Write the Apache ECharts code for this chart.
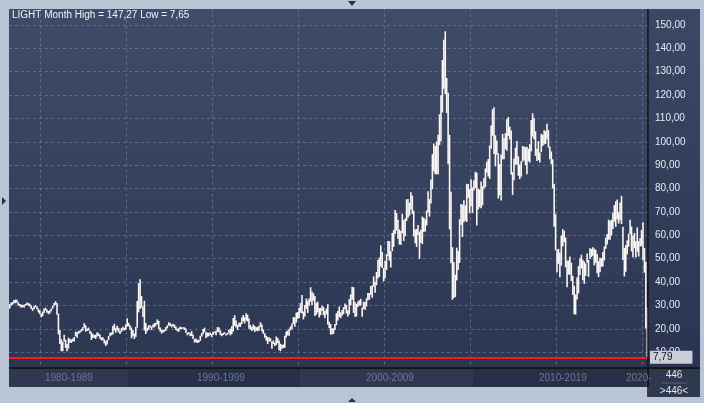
<!DOCTYPE html>
<html><head><meta charset="utf-8">
<script src="https://cdn.jsdelivr.net/npm/echarts@6/dist/echarts.min.js"></script>
<style>html,body{margin:0;padding:0;background:#b9c4d4}#c{width:704px;height:403px}</style>
</head><body><div id="c"></div>
<script>
const title = "LIGHT Month High = 147,27 Low = 7,65";
const startYear = 1983, startMonth = 3, barCount = 446;
const decadeLabels = ["1980-1989","1990-1999","2000-2009","2010-2019","2020-"];
const lastLevel = 7.79;
const highs = [
30.5,31.2,31.5,32.3,32.5,32.4,31.3,30.6,30.4,30.2,
30.3,30.6,31.2,31.0,30.7,30.0,28.9,29.6,30.2,29.6,28.6,27.9,
26.5,27.4,28.7,29.0,28.2,27.6,27.9,28.7,29.8,31.0,31.8,31.0,
26.5,19.5,15.6,14.5,17.4,15.3,13.5,16.2,15.7,15.4,15.8,16.5,
18.8,18.5,19.0,19.3,19.9,20.7,22.4,21.5,20.1,20.5,19.3,18.6,
17.8,17.3,17.5,18.5,18.1,17.5,16.3,16.4,15.5,14.8,15.2,16.9,
18.3,18.4,21.2,22.1,20.4,21.3,20.4,19.1,20.3,20.9,20.4,21.9,
24.5,22.5,21.5,20.5,19.5,18.0,20.8,31.9,39.5,41.2,34.0,29.5,
32.0,22.5,20.5,21.5,21.5,21.0,21.8,22.4,22.6,24.0,23.4,20.5,
19.5,19.7,19.6,20.8,21.5,22.8,22.5,21.7,22.1,21.8,21.0,20.0,
20.4,20.9,20.6,20.6,20.6,20.1,18.3,18.6,18.2,19.0,17.5,15.6,
15.8,15.3,15.2,17.0,18.2,19.9,20.5,18.6,18.4,18.3,18.4,17.8,
18.7,18.8,19.1,20.7,20.6,19.3,18.0,18.3,18.5,17.9,18.3,19.6,
20.0,21.1,24.6,25.8,23.5,21.6,22.6,22.6,24.8,25.9,24.9,26.6,
26.0,24.5,21.6,20.8,21.9,21.2,20.6,20.8,21.3,22.8,21.8,19.7,
18.1,17.0,16.5,16.4,15.9,14.6,15.0,14.0,16.7,16.1,15.0,13.6,
13.2,13.3,17.0,18.8,19.2,20.0,21.0,22.3,25.0,24.8,26.9,27.2,
29.0,31.0,34.4,27.4,30.2,33.0,32.0,33.0,37.8,35.9,35.2,34.0,
31.1,31.6,28.9,28.9,29.9,29.3,27.6,28.6,30.5,23.0,22.0,20.2,
20.2,22.0,26.6,27.6,29.5,27.0,28.0,29.2,30.8,30.2,27.9,32.7,
34.7,38.0,37.8,31.5,30.6,31.7,32.2,32.8,29.1,31.6,31.5,33.0,
35.3,35.3,38.3,38.5,42.4,40.1,44.3,49.4,50.5,55.7,52.8,46.0,
49.0,51.9,57.6,57.5,53.2,61.0,62.3,70.8,69.6,66.6,62.5,61.8,
69.2,66.5,67.2,75.4,75.5,73.9,78.4,77.0,70.5,62.5,62.7,64.4,
61.5,62.4,68.0,67.5,66.8,70.6,78.8,75.5,83.9,94.7,99.3,98.2,
100.1,103.0,111.8,119.9,135.0,143.7,147.3,127.3,121.0,103.0,78.6,54.9,
48.6,43.1,54.7,53.3,66.9,73.4,73.1,75.0,72.8,82.0,82.0,79.8,
84.0,80.5,83.5,87.2,86.8,79.8,79.6,83.0,81.0,84.5,88.6,91.5,
92.6,98.5,107.0,113.9,114.8,102.8,100.6,95.1,90.5,94.6,103.4,101.6,
103.7,109.8,110.6,106.5,104.8,87.0,92.9,97.5,100.4,93.8,90.3,91.7,
98.2,98.0,97.7,97.9,97.0,99.0,109.3,112.2,110.2,104.5,97.0,100.3,
95.4,103.4,103.0,104.9,104.5,107.7,105.0,98.0,95.9,92.5,82.0,69.0,
53.9,54.2,52.5,59.9,62.6,61.9,59.0,49.2,49.2,50.9,48.3,42.6,
38.4,34.7,41.9,46.8,50.2,51.7,49.5,48.8,48.0,52.2,49.5,54.5,
54.2,54.9,54.3,53.8,52.0,48.9,50.4,50.2,52.9,55.2,59.0,60.5,
66.7,66.2,66.6,69.6,72.9,74.5,75.3,70.0,74.0,76.9,63.7,54.6,
55.8,57.8,60.7,66.6,63.8,59.9,61.0,57.5,63.4,57.5,58.8,62.3,
65.6,54.5,48.7,29.1];
const lows = [
28.6,29.8,30.3,30.8,31.0,31.1,30.0,29.6,29.0,29.3,
29.0,29.8,30.2,30.0,29.5,28.5,27.6,28.4,29.2,28.3,27.0,26.2,
24.9,25.4,26.7,27.8,26.8,26.2,26.5,27.5,28.6,29.6,30.2,26.0,
17.6,13.5,10.4,10.4,14.5,11.8,10.4,11.5,14.0,13.9,14.6,14.6,
16.8,16.2,17.8,18.3,18.8,19.3,20.5,18.8,19.0,19.3,17.9,15.2,
16.0,16.1,15.6,16.6,16.9,15.7,15.1,15.0,13.7,12.6,13.3,15.1,
16.8,17.2,17.5,19.3,18.3,19.3,18.5,17.8,18.7,19.4,19.3,19.5,
21.0,21.0,19.5,15.9,16.8,15.6,16.5,20.5,27.0,28.5,29.0,25.0,
19.3,17.8,18.9,19.6,20.5,19.4,20.5,20.6,21.3,22.0,19.8,18.8,
17.9,18.4,18.7,19.2,20.2,21.3,21.2,20.6,21.1,20.3,19.5,18.9,
18.7,19.7,19.8,20.0,19.5,18.2,17.2,17.8,16.8,16.9,15.6,14.1,
14.2,13.9,14.1,14.8,16.7,17.6,18.6,16.1,16.6,16.8,17.3,16.4,
17.3,18.1,17.2,18.6,18.5,17.3,16.8,17.3,17.8,17.1,17.5,18.0,
17.2,17.7,18.8,21.2,20.5,19.5,20.9,20.8,22.0,23.2,22.3,23.5,
23.1,20.0,19.6,19.0,19.6,18.6,19.1,19.0,19.1,20.8,18.8,17.8,
16.2,15.0,13.5,14.6,14.5,11.4,13.5,12.6,13.0,13.8,10.8,10.4,
11.4,11.7,11.9,16.3,17.1,17.0,19.3,19.9,22.0,20.9,22.6,24.3,
24.5,26.8,26.5,24.0,25.2,28.6,26.8,30.0,31.6,30.1,32.0,25.5,
26.0,27.0,24.8,25.8,27.6,25.8,24.5,26.2,21.8,20.3,17.5,17.5,
17.8,19.5,21.5,23.5,25.0,24.5,25.6,26.3,28.3,26.6,25.2,26.2,
30.1,32.5,26.8,25.1,25.2,29.3,29.9,29.9,25.1,28.5,28.0,29.5,
32.2,32.4,34.6,33.3,38.0,35.4,38.6,41.5,42.2,46.6,46.0,40.3,
41.6,45.2,51.0,49.2,46.2,53.2,55.0,60.5,62.0,58.5,56.0,56.0,
60.9,57.6,59.6,66.1,67.4,68.4,71.0,69.1,59.5,56.6,55.0,60.1,
49.9,56.7,56.2,61.5,61.6,64.2,69.8,68.0,73.6,79.7,87.3,86.1,
86.1,86.1,98.6,100.2,112.6,122.7,120.4,112.3,90.5,62.5,48.0,32.4,
33.2,33.6,40.7,45.1,48.2,64.4,59.3,65.6,66.2,65.7,76.0,69.5,
72.4,69.5,79.2,80.2,64.2,71.0,72.0,71.6,72.8,80.0,80.7,86.8,
85.1,84.1,97.0,102.6,94.8,89.5,94.5,75.7,77.1,74.9,92.5,92.5,
96.9,96.2,102.5,101.0,86.0,77.3,83.5,90.2,90.2,85.5,84.0,85.1,
91.5,92.0,90.0,86.1,91.7,91.1,95.9,102.2,101.1,94.0,91.8,92.2,
91.2,95.6,98.2,98.8,99.1,101.1,97.5,92.5,90.4,80.0,63.7,53.6,
44.2,47.8,42.0,47.0,55.3,57.0,46.3,37.8,43.2,43.1,40.4,34.5,
26.2,26.1,32.5,35.2,43.0,45.8,40.8,39.2,42.6,48.3,42.2,49.9,
50.7,51.2,47.1,48.2,43.8,42.1,44.2,46.5,46.6,49.2,54.2,56.1,
58.1,58.1,59.9,62.7,65.8,63.6,66.9,65.0,66.4,64.8,49.4,42.4,
44.4,51.8,55.1,60.4,53.1,50.6,54.4,50.5,53.0,50.9,55.2,55.4,
49.3,44.0,20.1,7.79];

const categories = [];
for (let i = 0; i < barCount; i++) {
  const m = startMonth - 1 + i;
  const y = startYear + Math.floor(m / 12), mm = (m % 12) + 1;
  categories.push(y + '-' + (mm < 10 ? '0' + mm : mm));
}
const data = highs.map((h, i) => [i, lows[i], h]);

const chart = echarts.init(document.getElementById('c'));
const bandTop = 368, bandH = 19;
chart.setOption({
  animation: false,
  backgroundColor: '#b9c4d4',
  grid: { left: 9, right: 56, top: 1.6, bottom: 27.5 },
  xAxis: {
    type: 'category', data: categories, boundaryGap: true,
    axisLine: { show: false }, axisTick: { show: false }, axisLabel: { show: false },
    splitLine: { show: true, interval: (i, v) => v.endsWith('-01') && (+v.slice(0, 4)) % 5 === 0,
      lineStyle: { color: 'rgba(125,140,170,0.55)', type: [3, 3], width: 1 } }
  },
  yAxis: {
    type: 'value', position: 'right', min: 0, max: 160, interval: 10,
    axisLine: { show: false }, axisTick: { show: false },
    axisLabel: { color: '#e6ebf3', fontSize: 10, fontFamily: 'Liberation Sans, Arial', margin: 7,
      formatter: v => (v === 0 || v === 160) ? '' : v.toFixed(2).replace('.', ',') },
    splitLine: { lineStyle: { color: 'rgba(125,140,170,0.55)', type: [3, 3], width: 1 } }
  },
  graphic: [
    { type: 'rect', z: -10, shape: { x: 9, y: 9, width: 639, height: 359 },
      style: { fill: new echarts.graphic.LinearGradient(0, 0, 0, 1, [{ offset: 0, color: '#3f4c69' }, { offset: 1, color: '#2b3651' }]) } },
    { type: 'rect', z: -10, shape: { x: 648, y: 9, width: 52, height: 359 },
      style: { fill: new echarts.graphic.LinearGradient(0, 0, 0, 1, [{ offset: 0, color: '#3b4864' }, { offset: 1, color: '#2a3450' }]) } },
    { type: 'rect', z: 50, shape: { x: 0, y: 0, width: 704, height: 9 }, style: { fill: '#b9c4d4' } },
    { type: 'rect', z: 50, shape: { x: 9, y: bandTop, width: 691, height: bandH + 10 }, style: { fill: '#1f2637' } },
    { type: 'rect', z: 51, shape: { x: 9, y: bandTop + 1, width: 639, height: bandH - 1 }, style: { fill: '#2e384f' } },
    { type: 'rect', z: 51, shape: { x: 128, y: bandTop + 1, width: 172, height: bandH - 1 }, style: { fill: '#263047' } },
    { type: 'rect', z: 51, shape: { x: 473, y: bandTop + 1, width: 172, height: bandH - 1 }, style: { fill: '#263047' } },
    { type: 'rect', z: 51, shape: { x: 649, y: bandTop + 1, width: 51, height: 28 }, style: { fill: '#2e384f' } },
    { type: 'rect', z: 52, shape: { x: 0, y: 397, width: 704, height: 6 }, style: { fill: '#b9c4d4' } },
    { type: 'rect', z: 52, shape: { x: 0, y: 0, width: 9, height: 403 }, style: { fill: '#b9c4d4' } },
    { type: 'rect', z: 52, shape: { x: 700, y: 0, width: 4, height: 403 }, style: { fill: '#b9c4d4' } },
    { type: 'rect', z: 52, shape: { x: 9, y: bandTop + bandH, width: 640, height: 10 }, style: { fill: '#b9c4d4' } },
    { type: 'line', z: 53, shape: { x1: 648, y1: 9, x2: 648, y2: 397 }, style: { stroke: '#111', lineWidth: 1.5 } },
    { type: 'line', z: 53, shape: { x1: 9, y1: bandTop, x2: 700, y2: bandTop }, style: { stroke: '#111', lineWidth: 1.5 } },
    { type: 'text', z: 60, x: 12, y: 10, style: { text: title, fill: '#f0f3f8', fontSize: 10, fontFamily: 'Liberation Sans, Arial' } },
    ...decadeLabels.map((t, i) => ({ type: 'text', z: 60, x: [45, 197, 366, 539, 626][i], y: bandTop + 5,
      style: { text: t, fill: '#6c7891', fontSize: 10, fontFamily: 'Liberation Sans, Arial' } })),
    { type: 'text', z: 60, x: 674, y: bandTop + 2, style: { text: String(barCount), fill: '#dfe5ee', fontSize: 10, align: 'center', fontFamily: 'Liberation Sans, Arial' } },
    { type: 'line', z: 60, shape: { x1: 662, y1: bandTop + 15, x2: 687, y2: bandTop + 15 }, style: { stroke: '#56627a' } },
    { type: 'text', z: 60, x: 674, y: bandTop + 18, style: { text: '>' + barCount + '<', fill: '#dfe5ee', fontSize: 10, align: 'center', fontFamily: 'Liberation Sans, Arial' } },
    { type: 'polygon', z: 60, shape: { points: [[348, 1], [356, 1], [352, 6]] }, style: { fill: '#2a3144' } },
    { type: 'polygon', z: 60, shape: { points: [[348, 402], [356, 402], [352, 398]] }, style: { fill: '#2a3144' } },
    { type: 'polygon', z: 60, shape: { points: [[2, 197], [2, 205], [6, 201]] }, style: { fill: '#2a3144' } }
  ],
  series: [{
    type: 'custom', data: data, encode: { x: 0, y: [1, 2] },
    renderItem: (params, api) => {
      const lo = api.coord([api.value(0), api.value(1)]);
      const hi = api.coord([api.value(0), api.value(2)]);
      return { type: 'rect', shape: { x: lo[0] - 0.8, y: hi[1], width: 1.6, height: Math.max(1, lo[1] - hi[1]) },
        style: { fill: '#fbf6f2' } };
    },
    markLine: {
      silent: true, symbol: 'none',
      lineStyle: { color: '#ff1a1a', width: 2, type: 'solid' },
      label: { position: 'end', formatter: lastLevel.toFixed(2).replace('.', ','), color: '#111', fontSize: 10,
        backgroundColor: '#c9ced8', padding: [2, 20, 1, 3], distance: 2, fontFamily: 'Liberation Sans, Arial' },
      data: [{ yAxis: lastLevel }]
    }
  }]
});
</script></body></html>
